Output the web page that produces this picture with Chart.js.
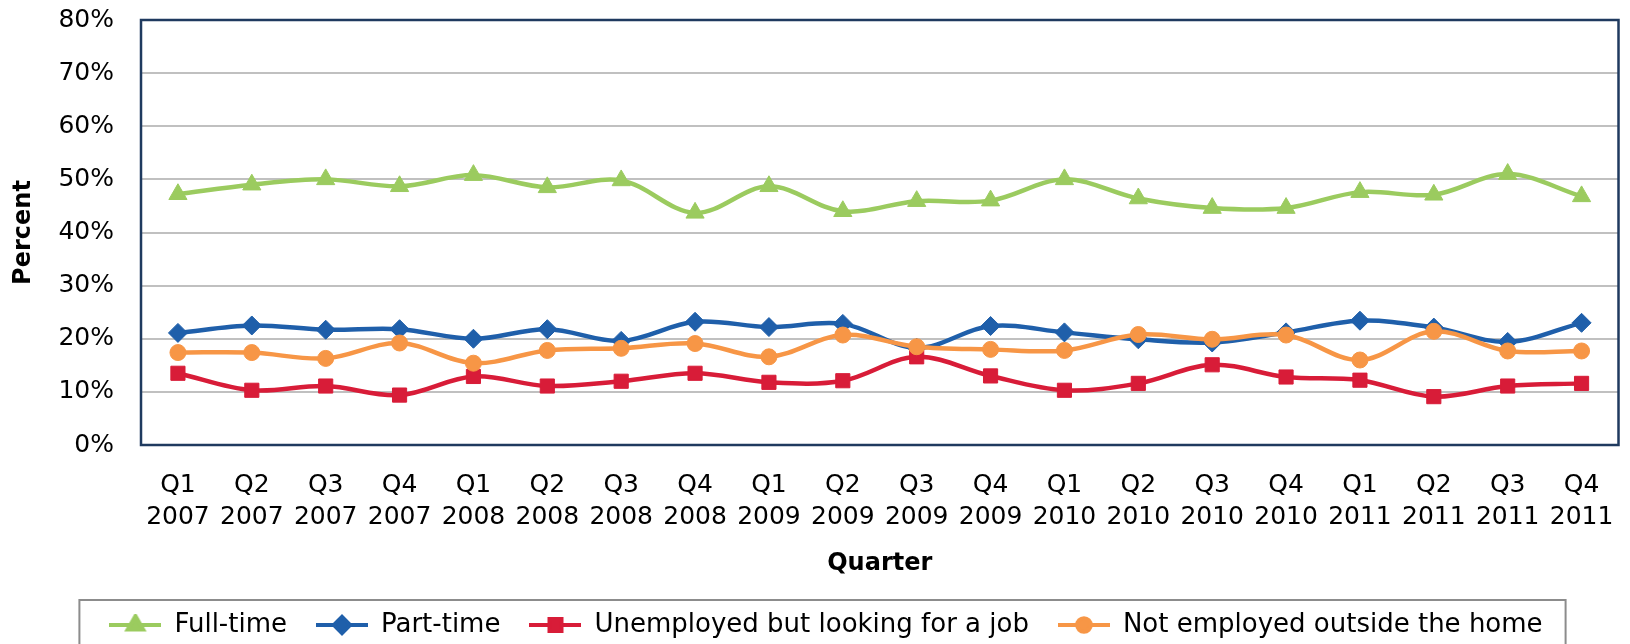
<!DOCTYPE html>
<html>
<head>
<meta charset="utf-8">
<script src="https://cdn.jsdelivr.net/npm/chart.js@4.4.1/dist/chart.umd.min.js"></script>
<style>
  html, body { margin: 0; padding: 0; background: #fff; }
  #wrap { width: 1630px; height: 644px; position: relative; }
</style>
</head>
<body>
<div id="wrap"><canvas id="chart"></canvas></div>
<script>
const quarters = [
    ["Q1", "2007"], ["Q2", "2007"], ["Q3", "2007"], ["Q4", "2007"],
    ["Q1", "2008"], ["Q2", "2008"], ["Q3", "2008"], ["Q4", "2008"],
    ["Q1", "2009"], ["Q2", "2009"], ["Q3", "2009"], ["Q4", "2009"],
    ["Q1", "2010"], ["Q2", "2010"], ["Q3", "2010"], ["Q4", "2010"],
    ["Q1", "2011"], ["Q2", "2011"], ["Q3", "2011"], ["Q4", "2011"]
];
const fullTime    = [47.2, 49.0, 50.0, 48.7, 50.8, 48.5, 49.8, 43.7, 48.7, 44.0, 45.9, 46.0, 50.0, 46.4, 44.6, 44.6, 47.6, 47.1, 51.0, 46.8];
const partTime    = [21.1, 22.5, 21.7, 21.8, 20.0, 21.8, 19.6, 23.2, 22.2, 22.8, 18.3, 22.4, 21.2, 19.9, 19.3, 21.2, 23.4, 22.1, 19.4, 23.0];
const unemployed  = [13.5, 10.3, 11.1,  9.4, 12.9, 11.1, 12.0, 13.5, 11.8, 12.1, 16.6, 13.0, 10.3, 11.6, 15.1, 12.8, 12.2,  9.1, 11.1, 11.6];
const notEmployed = [17.4, 17.4, 16.3, 19.2, 15.4, 17.8, 18.2, 19.1, 16.6, 20.7, 18.5, 18.0, 17.8, 20.8, 19.9, 20.7, 16.0, 21.4, 17.7, 17.7];
const yTicks = [0, 10, 20, 30, 40, 50, 60, 70, 80];

const FONT = "'DejaVu Sans', sans-serif";

// line + marker icon for the legend, like Excel
function legendIcon(color, style, radius) {
    const c = document.createElement("canvas");
    c.width = 52;
    c.height = 22;
    const g = c.getContext("2d");
    g.strokeStyle = color;
    g.lineWidth = 4;
    g.beginPath();
    g.moveTo(0, 11);
    g.lineTo(52, 11);
    g.stroke();
    g.fillStyle = color;
    g.strokeStyle = color;
    Chart.helpers.drawPoint(g, { pointStyle: style, radius: radius, rotation: 0, borderWidth: 1 }, 26, 11);
    return c;
}

function makeSet(label, data, color, style, radius, order) {
    return {
        label, data, order,
        borderColor: color,
        backgroundColor: color,
        borderWidth: 4.5,
        tension: 0.35,
        pointStyle: style,
        pointRadius: radius,
        pointHoverRadius: radius,
        pointBackgroundColor: color,
        pointBorderColor: color,
        pointBorderWidth: 1,
        icon: legendIcon(color, style, radius * 0.85)
    };
}

const datasets = [
    makeSet("Full-time", fullTime, "#9BCB5F", "triangle", 10.5, 3),
    makeSet("Part-time", partTime, "#1F5FAA", "rectRot", 9.5, 2),
    makeSet("Unemployed but looking for a job", unemployed, "#D81C38", "rect", 10, 1),
    makeSet("Not employed outside the home", notEmployed, "#F79646", "circle", 8, 0)
];

// plot frame and legend frame
const frames = {
    id: "frames",
    beforeDatasetsDraw(chart) {
        const a = chart.chartArea;
        const ctx = chart.ctx;
        ctx.save();
        ctx.strokeStyle = "#1F3A5F";
        ctx.lineWidth = 2.5;
        ctx.strokeRect(a.left, a.top, a.right - a.left, a.bottom - a.top);
        ctx.restore();
    },
    afterDraw(chart) {
        const boxes = chart.legend.legendHitBoxes;
        if (!boxes || !boxes.length) return;
        const first = boxes[0];
        const last = boxes[boxes.length - 1];
        const ctx = chart.ctx;
        ctx.save();
        ctx.strokeStyle = "#8C8C8C";
        ctx.lineWidth = 2;
        const l = first.left - 30;
        const r = last.left + last.width + 23;
        ctx.strokeRect(l, 600, r - l, 70);
        ctx.restore();
    }
};

Chart.defaults.color = "#000";

new Chart(document.getElementById("chart"), {
    type: "line",
    data: { labels: quarters, datasets },
    plugins: [frames],
    options: {
        responsive: true,
        maintainAspectRatio: false,
        animation: false,
        layout: { padding: { top: 20, right: 6, left: 28, bottom: -4 } },
        plugins: {
            tooltip: { enabled: false },
            legend: {
                position: "bottom",
                labels: {
                    usePointStyle: true,
                    pointStyleWidth: 52,
                    padding: 29,
                    color: "#000",
                    font: { family: FONT, size: 26 },
                    generateLabels: chart => chart.data.datasets.map((ds, i) => ({
                        text: ds.label,
                        datasetIndex: i,
                        pointStyle: ds.icon,
                        fillStyle: ds.borderColor,
                        strokeStyle: ds.borderColor,
                        lineWidth: 0,
                        hidden: false
                    }))
                }
            }
        },
        scales: {
            x: {
                offset: true,
                // invisible tick marks keep the labels clear of the frame
                grid: { display: true, drawOnChartArea: false, drawTicks: true, tickLength: 24, color: "transparent", tickColor: "transparent" },
                border: { display: false },
                ticks: {
                    autoSkip: false,
                    maxRotation: 0,
                    padding: 0,
                    font: { family: FONT, size: 25, lineHeight: 1.28 }
                },
                title: {
                    display: true,
                    text: "Quarter",
                    font: { family: FONT, size: 24, weight: "bold", lineHeight: 1.2 },
                    padding: { top: 0, bottom: 5 }
                },
                afterFit: s => { s.height = 138; }
            },
            y: {
                min: 0,
                max: 80,
                afterBuildTicks: s => { s.ticks = yTicks.map(v => ({ value: v })); },
                grid: { color: "#C0C0C0", lineWidth: 2, drawTicks: true, tickLength: 27, tickColor: "transparent" },
                border: { display: false },
                ticks: {
                    padding: 0,
                    font: { family: FONT, size: 25 },
                    callback: v => v + "%"
                },
                title: {
                    display: true,
                    text: "Percent",
                    font: { family: FONT, size: 24, weight: "bold", lineHeight: 1.2 },
                    padding: { top: -19, bottom: 0 }
                },
                afterFit: s => { s.width = 113; }
            }
        }
    }
});
</script>
</body>
</html>
